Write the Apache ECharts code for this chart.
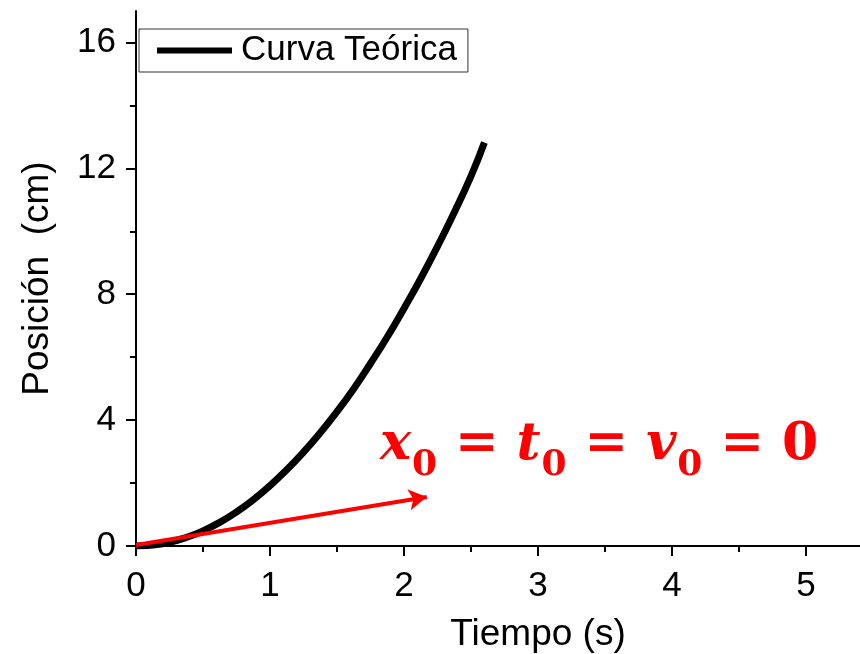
<!DOCTYPE html>
<html>
<head>
<meta charset="utf-8">
<script src="https://cdn.jsdelivr.net/npm/echarts@6/dist/echarts.min.js"></script>
<style>
html, body { margin: 0; padding: 0; background: #fff; overflow: hidden; }
#posChart { width: 960px; height: 654px; }
</style>
</head>
<body>
<div id="posChart"></div>
<script type="text/javascript">
// posición vs tiempo, curva teórica
var tiempo = [0, 0.125, 0.25, 0.375, 0.5, 0.625, 0.75, 0.875, 1, 1.125, 1.25, 1.375, 1.5, 1.625, 1.75, 1.875, 2, 2.125, 2.25, 2.375, 2.5, 2.6]
var posicion = [0, 0.03, 0.12, 0.27, 0.48, 0.75, 1.08, 1.47, 1.92, 2.42, 2.98, 3.6, 4.27, 5.0, 5.8, 6.64, 7.55, 8.5, 9.52, 10.6, 11.75, 12.82]
var yMajor = [0, 4, 8, 12, 16]
var yMinor = [2, 6, 10, 14]
// flecha roja y texto
var flechaIni = [0, 0.03]
var flechaFin = [2.17, 1.56]
var textoPos = [1.82, 3.2]

var font = 'Liberation Sans'
var curva = tiempo.map(function (t, i) { return [t, posicion[i]] })

var option = {
    animation: false,
    grid: {
        left: 136,
        right: 20,
        top: 11,
        bottom: 108,
        outerBoundsMode: 'none',
        containLabel: false
    },
    legend: {
        data: [{ name: 'Curva Teórica', icon: 'rect' }],
        left: 139,
        top: 29,
        padding: [4, 11, 4, 18],
        borderColor: '#333',
        borderWidth: 1,
        borderRadius: 0,
        itemWidth: 75,
        itemHeight: 6,
        itemStyle: { color: '#000' },
        textStyle: {
            fontFamily: font,
            fontSize: 35,
            lineHeight: 34,
            color: '#000',
            padding: [0, 0, 0, 4]
        }
    },
    xAxis: [{
            type: 'value',
            position: 'bottom',
            min: 0,
            max: 6,
            interval: 1,
            name: 'Tiempo (s)',
            nameLocation: 'middle',
            nameGap: 70,
            nameTextStyle: { fontFamily: font, fontSize: 37, color: '#000' },
            axisLine: { lineStyle: { color: '#000', width: 2 } },
            axisTick: { inside: false, length: 10, lineStyle: { color: '#000', width: 2 } },
            minorTick: { show: true, splitNumber: 2, length: 6, lineStyle: { color: '#000', width: 2 } },
            axisLabel: { margin: 23, fontFamily: font, fontSize: 35, color: '#000' },
            splitLine: { show: false }
        },
        {
            type: 'value',
            position: 'top',
            min: 0,
            max: 6,
            interval: 0.5,
            axisLine: { lineStyle: { color: '#000', width: 2 } },
            axisTick: { inside: true, length: 4, lineStyle: { color: '#000', width: 1.5 } },
            axisLabel: { show: false },
            splitLine: { show: false }
        }
    ],
    yAxis: [{
            type: 'value',
            position: 'left',
            min: 0,
            max: 17,
            interval: 4,
            name: 'Posición  (cm)',
            nameLocation: 'middle',
            nameGap: 80,
            nameTextStyle: { fontFamily: font, fontSize: 37, color: '#000' },
            axisLine: { lineStyle: { color: '#000', width: 2 } },
            axisTick: { length: 10, customValues: yMajor, lineStyle: { color: '#000', width: 2 } },
            axisLabel: { margin: 20, customValues: yMajor, fontFamily: font, fontSize: 35, color: '#000' },
            splitLine: { show: false }
        },
        {
            type: 'value',
            position: 'left',
            min: 0,
            max: 17,
            interval: 2,
            axisLine: { show: false },
            axisTick: { length: 6, customValues: yMinor, lineStyle: { color: '#000', width: 2 } },
            axisLabel: { show: false },
            splitLine: { show: false }
        }
    ],
    series: [{
            name: 'flecha',
            type: 'line',
            data: [],
            z: 1,
            markLine: {
                silent: true,
                symbol: ['none', 'arrow'],
                symbolSize: [16, 18],
                label: { show: false },
                lineStyle: { color: '#ff0000', width: 4, type: 'solid' },
                data: [[{ coord: flechaIni }, { coord: flechaFin }]]
            },
            markPoint: {
                silent: true,
                symbol: 'circle',
                symbolSize: 0,
                data: [{ coord: textoPos }],
                label: {
                    show: true,
                    position: 'right',
                    distance: 0,
                    formatter: '{v|x}{s|0}{e|=}{v|t}{s|0}{e|=}{v|v}{s|0}{e|=}{n|0}',
                    rich: {
                        v: { fontFamily: 'DejaVu Serif', fontStyle: 'italic', fontWeight: 'bold', fontSize: 52, color: '#ff0000' },
                        s: { fontFamily: 'DejaVu Serif', fontWeight: 'bold', fontSize: 36, color: '#ff0000', padding: [40, 0, 0, 1] },
                        e: { fontFamily: 'DejaVu Serif', fontWeight: 'bold', fontSize: 52, color: '#ff0000', padding: [0, 18, 0, 18] },
                        n: { fontFamily: 'DejaVu Serif', fontWeight: 'bold', fontSize: 52, color: '#ff0000' }
                    }
                }
            }
        },
        {
            name: 'Curva Teórica',
            type: 'line',
            data: curva,
            smooth: true,
            showSymbol: false,
            symbol: 'none',
            z: 3,
            lineStyle: { color: '#000', width: 7 },
            itemStyle: { color: '#000' }
        }
    ]
}

var myChart = echarts.init(document.getElementById('posChart'))
myChart.setOption(option)
</script>
</body>
</html>
